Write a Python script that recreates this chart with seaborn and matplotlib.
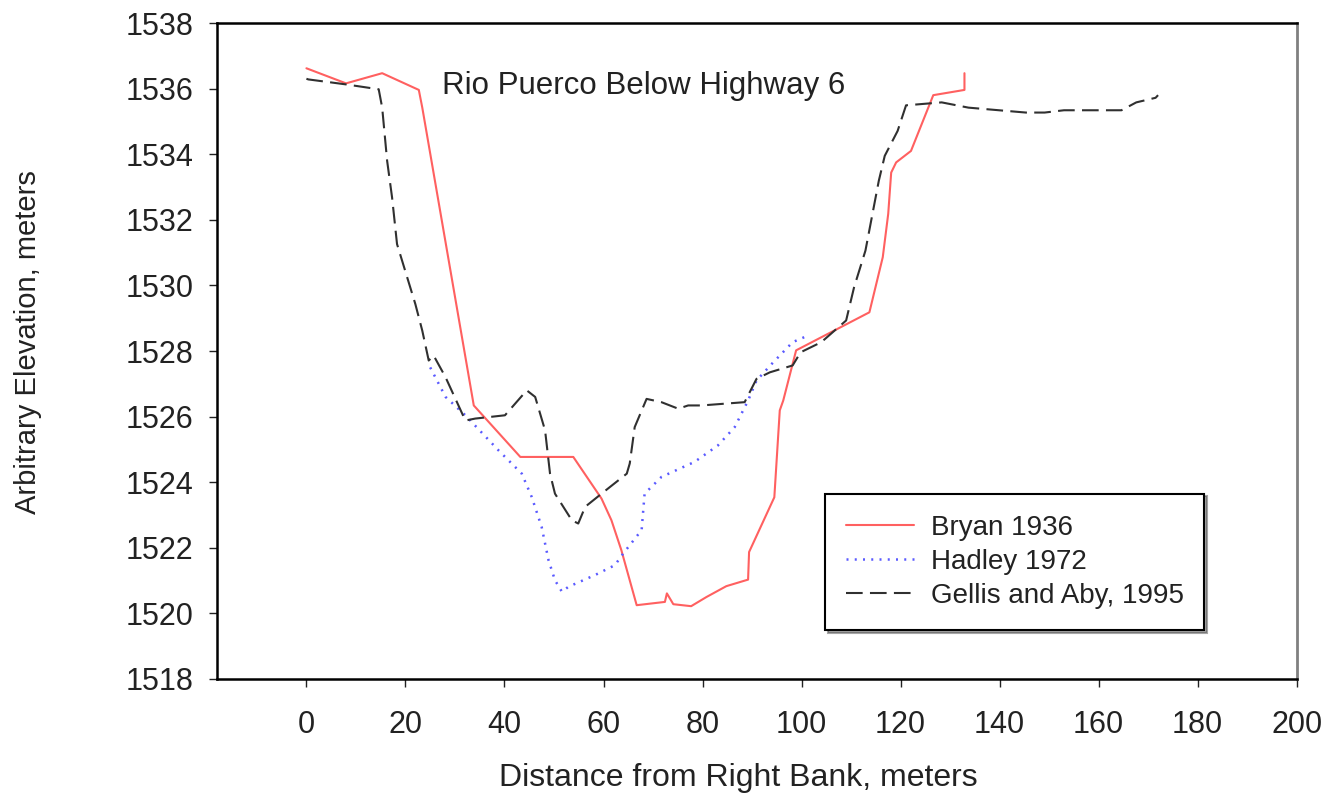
import numpy as np
import pandas as pd
import matplotlib
matplotlib.use("Agg")
import matplotlib.pyplot as plt
import seaborn as sns

# Profils en travers
bryan_x = [0, 8.0, 15.3, 22.7, 23.4, 33.8, 43.2, 53.9, 59.6, 61.6, 63.6, 66.7, 72.4, 72.8,
           74.1, 77.7, 80.8, 84.8, 89.2, 89.4, 94.5, 95.6, 96.3, 98.9, 113.7, 116.4,
           117.5, 118.1, 119.1, 122.1, 126.6, 132.9, 132.9]
bryan_y = [1536.62, 1536.16, 1536.47, 1535.96, 1535.42, 1526.34, 1524.77, 1524.77, 1523.5,
           1522.84, 1521.93, 1520.25, 1520.35, 1520.61, 1520.28, 1520.22, 1520.5, 1520.83,
           1521.03, 1521.87, 1523.54, 1526.19, 1526.49, 1528.02, 1529.18, 1530.86, 1532.18,
           1533.44, 1533.75, 1534.1, 1535.8, 1535.96, 1536.47]

hadley_x = [25.0, 28.1, 32.1, 38.8, 43.5, 45.5, 47.5, 48.9, 50.2, 51.6, 52.9, 58.3, 62.3,
            64.0, 67.7, 68.3, 71.7, 78.4, 83.1, 86.5, 89.2, 90.9, 94.0, 98.2, 101.3]
hadley_y = [1527.5, 1526.6, 1526.04, 1524.97, 1524.26, 1523.55, 1522.64, 1521.62, 1521.01,
            1520.66, 1520.81, 1521.17, 1521.47, 1521.83, 1522.54, 1523.65, 1524.16, 1524.62,
            1525.12, 1525.68, 1526.49, 1527.1, 1527.61, 1528.27, 1528.47]

gellis_x = [0, 0.4, 7.9, 14.6, 15.3, 16.3, 17.3, 18.3, 22.0, 23.4, 24.7, 25.7, 28.1, 32.1,
            34.1, 40.1, 44.5, 46.2, 48.2, 49.2, 50.2, 53.6, 54.9, 56.3, 59.6, 64.7, 65.3,
            66.3, 68.7, 71.7, 75.1, 77.1, 79.8, 88.5, 90.9, 93.6, 98.2, 99.8, 104.0, 109.0,
            110.6, 112.9, 115.6, 116.8, 119.4, 121.1, 128.3, 133.7, 141.4, 145.3, 149.1,
            153.0, 164.6, 167.6, 171.5, 172.0]
gellis_y = [1536.3, 1536.28, 1536.13, 1535.98, 1535.42, 1533.8, 1532.68, 1531.26, 1529.43,
            1528.62, 1527.71, 1527.86, 1527.2, 1525.88, 1525.94, 1526.04, 1526.8, 1526.6,
            1525.58, 1524.26, 1523.65, 1522.84, 1522.74, 1523.25, 1523.65, 1524.26, 1524.57,
            1525.68, 1526.54, 1526.44, 1526.24, 1526.34, 1526.34, 1526.44, 1527.15, 1527.35,
            1527.56, 1527.96, 1528.27, 1528.93, 1529.94, 1531.06, 1533.19, 1533.95, 1534.71,
            1535.49, 1535.58, 1535.42, 1535.32, 1535.27, 1535.27, 1535.34, 1535.34, 1535.58,
            1535.72, 1535.8]

labels = ["Bryan 1936", "Hadley 1972", "Gellis and Aby, 1995"]
couleurs = ["#ff6060", "#5a5aff", "#303030"]

sns.set_style("white")
plt.rcParams['font.family'] = ['Liberation Sans', 'DejaVu Sans']

fig = plt.figure(figsize=(13.29, 7.99), dpi=100)
ax = fig.add_axes([0.1635, 0.1502, 0.8122, 0.821])

series = [(bryan_x, bryan_y), (hadley_x, hadley_y), (gellis_x, gellis_y)]
for (xs, ys), lab, c in zip(series, labels, couleurs):
    df = pd.DataFrame({"x": xs, "y": ys})
    sns.lineplot(data=df, x="x", y="y", sort=False, estimator=None, ax=ax,
                 color=c, linewidth=1.5, label=lab)

lignes = ax.get_lines()
lignes[1].set_linestyle((0, (0.8, 2.5)))
lignes[1].set_linewidth(1.8)
lignes[2].set_linestyle((0, (8, 3.5)))

ax.set_xlim(-18, 200)
ax.set_ylim(1518, 1538)
ax.set_xticks(np.arange(0, 201, 20))
ax.set_yticks(np.arange(1518, 1539, 2))
ax.tick_params(axis='x', direction='out', length=6, width=1, pad=16, labelsize=22,
               bottom=True, colors='#222222')
ax.tick_params(axis='y', direction='out', length=6, width=1, pad=11, labelsize=22,
               left=True, colors='#222222')

for s in ['left', 'bottom', 'top']:
    ax.spines[s].set_color('black')
    ax.spines[s].set_linewidth(1.8)
ax.spines['right'].set_color('#808080')
ax.spines['right'].set_linewidth(2)

ax.set_xlabel("Distance from Right Bank, meters", fontsize=23, color='#222222')
ax.xaxis.label.set_va('center')
ax.xaxis.set_label_coords(0.483, -0.1507)
ax.set_ylabel("Arbitrary Elevation, meters", fontsize=21, color='#222222')
ax.yaxis.label.set_va('center')
ax.yaxis.set_label_coords(-0.175, 0.514)

ax.text(27.4, 1536.08, "Rio Puerco Below Highway 6", fontsize=22.5, va='center',
        ha='left', color='#222222')

leg = ax.legend(loc='lower left', bbox_to_anchor=(0.563, 0.0746), fontsize=20,
                frameon=True, fancybox=False, shadow=True, handlelength=2.45,
                handletextpad=0.6, borderpad=0.75, labelspacing=0.3, borderaxespad=0)
leg.get_frame().set_edgecolor('black')
leg.get_frame().set_linewidth(1.5)
for t in leg.get_texts():
    t.set_color('#222222')

plt.savefig("out.png", dpi=100)
